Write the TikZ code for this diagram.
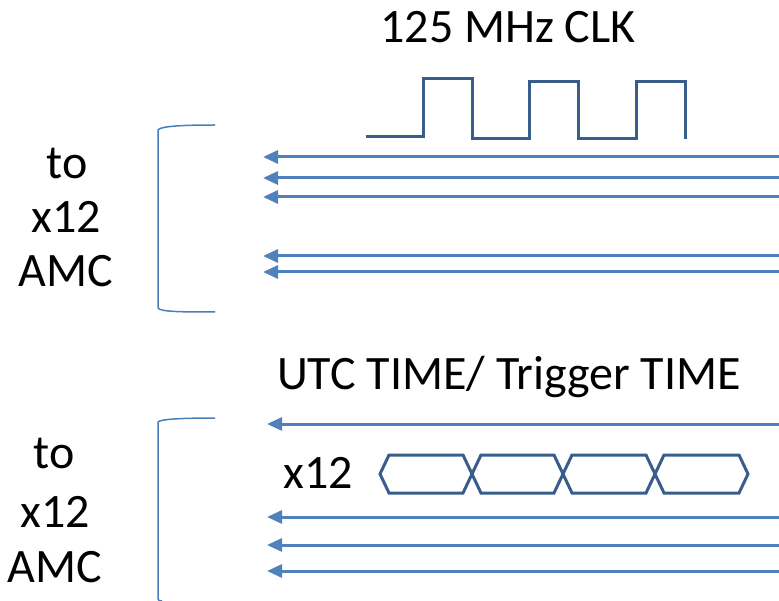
\documentclass[tikz,border=0pt]{standalone}
\usepackage{fontspec}
\setmainfont{Carlito}
\usetikzlibrary{arrows.meta}
\definecolor{sig}{HTML}{4F81BD}
\definecolor{wave}{HTML}{385D8A}
\definecolor{brk}{HTML}{4A7EBB}
\begin{document}
\begin{tikzpicture}[x=1pt,y=-1pt,
  lbl/.style={inner sep=0pt,anchor=base,font=\fontsize{48}{56}\selectfont},
  sigline/.style={draw=sig,line width=3pt,-{Triangle[length=15pt,width=13pt]}},
  wavestyle/.style={draw=wave,line width=3pt,line join=miter},
  brkstyle/.style={draw=brk,line width=1.5pt}]
\useasboundingbox (0,0) rectangle (779,601);
% titles
\node[lbl] (clk) at (508,43) {125 MHz CLK};
\node[lbl] (utc) at (509,389) {UTC TIME/ Trigger TIME};
\node[lbl] (xn) at (318,488) {x12};
% left labels top
\node[lbl] (t1) at (67,179) {to};
\node[lbl] (t2) at (66,233) {x12};
\node[lbl] (t3) at (66,287) {AMC};
% left labels bottom
\node[lbl] (b1) at (54,468) {to};
\node[lbl] (b2) at (55,527) {x12};
\node[lbl] (b3) at (55,582) {AMC};
% clock wave
\draw[wavestyle] (366,137) -- (423,137) -- (423,79) -- (472,79) -- (472,139) -- (529,139) -- (529,82) -- (578,82) -- (578,139) -- (636,139) -- (636,82) -- (685,82) -- (685,139);
% brackets
\draw[brkstyle] (215,125) .. controls (185,125) and (160,126) .. (158,130) -- (158,308) .. controls (160,312) and (185,312) .. (215,312);
\draw[brkstyle] (215,418) .. controls (185,418) and (160,419) .. (158,422) -- (158,599) .. controls (159,601) .. (162,601);
% top arrows
\foreach \n/\y in {a/157,b/178,c/197,d/256,e/272}{
  \coordinate (s\n) at (779,\y);
  \coordinate (e\n) at (263,\y);
  \draw[sigline] (s\n) -- (e\n);
}
% bottom arrows
\foreach \n/\y in {f/424,g/517,h/545,i/571}{
  \coordinate (s\n) at (779,\y);
  \coordinate (e\n) at (267,\y);
  \draw[sigline] (s\n) -- (e\n);
}
% data cells
\foreach \a/\b [count=\i] in {380/472,472/563,563/655,655/748}{
  \draw[wavestyle] (\a,474) -- (\a+9,455) -- (\b-9,455) -- (\b,474) -- (\b-9,493) -- (\a+9,493) -- cycle;
}
\end{tikzpicture}
\end{document}
